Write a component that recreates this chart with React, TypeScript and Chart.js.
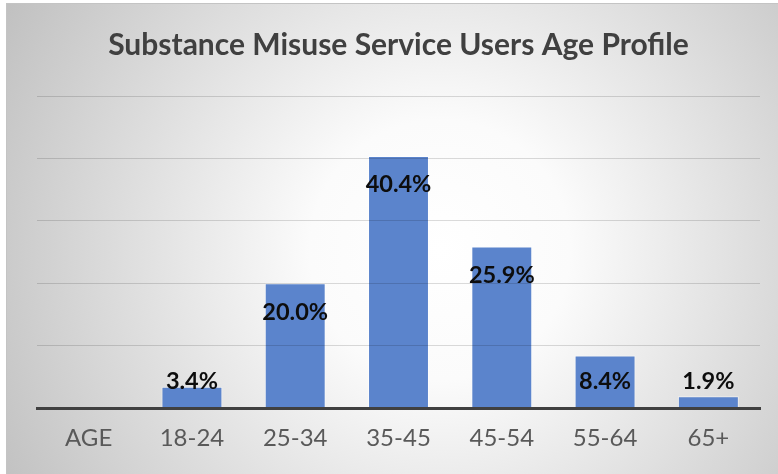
import React, { useEffect, useRef } from "react";
import { Chart, registerables } from "chart.js";

Chart.register(...registerables);

const categories = ["AGE", "18-24", "25-34", "35-45", "45-54", "55-64", "65+"];
const values: (number | null)[] = [null, 3.4, 20.0, 40.4, 25.9, 8.4, 1.9];
const title = "Substance Misuse Service Users Age Profile";
const yMax = 50;
const yStep = 10;

const FONT = "Lato, 'Open Sans', sans-serif";

const bgPlugin = {
  id: "bg",
  beforeDraw(chart: any) {
    const { ctx, width, height } = chart;
    ctx.save();
    ctx.fillStyle = "#ffffff";
    ctx.fillRect(0, 0, width, height);
    const x0 = 6, y0 = 3;
    const g = ctx.createRadialGradient(440, 250, 0, 440, 250, 520);
    g.addColorStop(0, "#ffffff");
    g.addColorStop(0.25, "#fbfbfb");
    g.addColorStop(1, "#bdbdbd");
    ctx.fillStyle = g;
    ctx.fillRect(x0, y0, width - x0, height - y0);
    ctx.strokeStyle = "#c4c4c4";
    ctx.lineWidth = 1;
    ctx.strokeRect(x0 + 0.5, y0 + 0.5, width - x0, height - y0);
    ctx.restore();
  },
};

const labelPlugin = {
  id: "valueLabels",
  afterDraw(chart: any) {
    const { ctx } = chart;
    const meta = chart.getDatasetMeta(0);
    const ds = chart.data.datasets[0].data;
    ctx.save();
    ctx.font = `bold 23.5px ${FONT}`;
    ctx.fillStyle = "#0d0d0d";
    ctx.textAlign = "center";
    ctx.textBaseline = "middle";
    meta.data.forEach((bar: any, i: number) => {
      const v = ds[i];
      if (v === null || v === undefined) return;
      const y = Math.min(bar.y + 29, bar.base - 26);
      ctx.fillText(`${v.toFixed(1)}%`, bar.x, y);
    });
    ctx.restore();
  },
};

export default function App() {
  const ref = useRef<HTMLCanvasElement>(null);
  useEffect(() => {
    document.body.style.margin = "0";
    const chart = new Chart(ref.current!, {
      type: "bar",
      data: {
        labels: categories,
        datasets: [
          {
            data: values,
            backgroundColor: "#5B84CC",
            borderColor: "rgba(255,255,255,0.55)",
            borderWidth: 1,
            barPercentage: 0.59,
            categoryPercentage: 1,
          },
        ],
      },
      options: {
        responsive: false,
        animation: false,
        layout: { padding: { left: 37, right: 18, top: 0, bottom: 6 } },
        plugins: {
          legend: { display: false },
          tooltip: { enabled: false },
          title: {
            display: true,
            text: title,
            color: "#404040",
            font: { family: FONT, size: 30, weight: "bold" },
            padding: { top: 27, bottom: 33 },
          },
        },
        scales: {
          x: {
            grid: { display: false, drawTicks: false },
            border: { display: true, color: "#404040", width: 3, z: 2 },
            ticks: {
              color: "#595959",
              font: { family: FONT, size: 24 },
              padding: 15.6,
            },
          },
          y: {
            min: 0,
            max: yMax,
            ticks: { display: false, stepSize: yStep },
            grid: { color: "rgba(0,0,0,0.14)", lineWidth: 1, drawTicks: false, z: 1 },
            border: { display: false },
          },
        },
      },
      plugins: [bgPlugin, labelPlugin],
    });
    return () => chart.destroy();
  }, []);
  return <canvas ref={ref} width={778} height={474} style={{ display: "block" }} />;
}
